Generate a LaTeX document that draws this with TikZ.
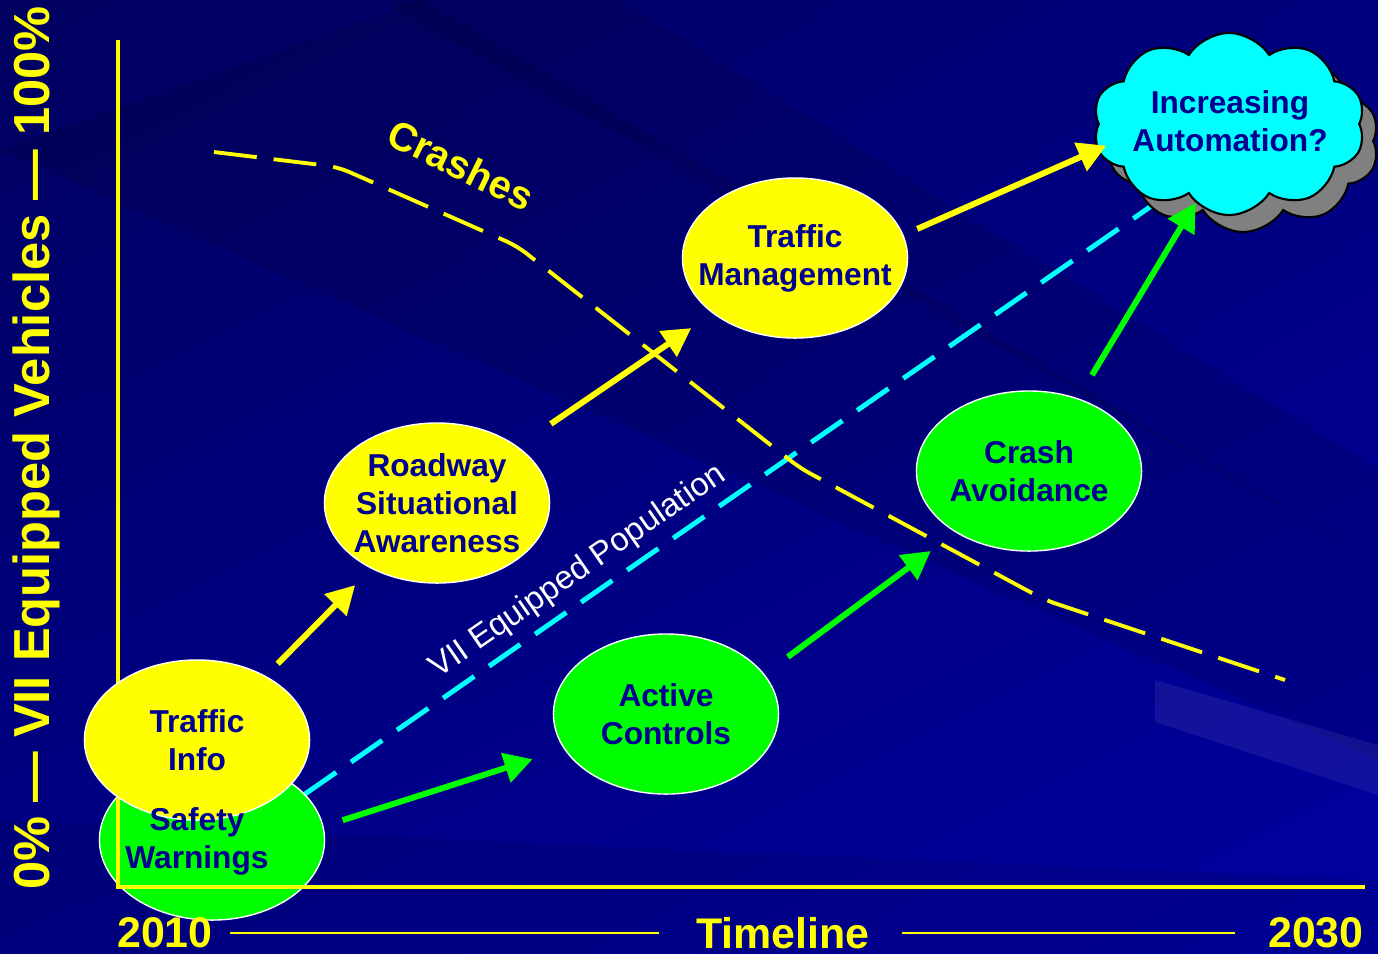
\documentclass[tikz,border=0pt]{standalone}
\usepackage{fontspec}
\setmainfont{Liberation Sans}
\usetikzlibrary{arrows.meta}
\usetikzlibrary{shapes.geometric}
\usetikzlibrary{shapes.symbols}
\usetikzlibrary{shadows}
\usetikzlibrary{shadings}
\definecolor{bgtl}{RGB}{0,0,95}
\definecolor{bgtr}{RGB}{0,0,125}
\definecolor{bgbl}{RGB}{0,0,135}
\definecolor{bgbr}{RGB}{0,0,160}
\definecolor{txtblue}{RGB}{0,0,145}
\definecolor{vyellow}{RGB}{255,255,0}
\definecolor{vgreen}{RGB}{0,255,0}
\definecolor{vcyan}{RGB}{0,255,255}

\begin{document}
\begin{tikzpicture}[x=0.01cm, y=-0.01cm,
    bubble/.style={ellipse, draw=white, thin, minimum width=2.25cm, minimum height=1.6cm,
        inner sep=-1cm, align=center, text=txtblue, font=\fontsize{9}{10.8}\selectfont\bfseries},
    ybubble/.style={bubble, fill=vyellow},
    gbubble/.style={bubble, fill=vgreen},
    bubbletext/.style={align=center, text=txtblue, font=\fontsize{9}{10.8}\selectfont\bfseries},
    yarrow/.style={vyellow, line width=1.7pt, -{Triangle[length=8pt,width=8.5pt]}},
    garrow/.style={yarrow, vgreen},
    axis/.style={vyellow, line width=1.4pt},
    biglabel/.style={vyellow, inner sep=0.1cm, font=\fontsize{12.2}{14}\selectfont\bfseries}]
    % background
    \useasboundingbox (0,0) rectangle (1378,953);
    \shade[upper left=bgtl, upper right=bgtr, lower left=bgbl, lower right=bgbr] (0,0) rectangle (1378,953);
    \fill[black, opacity=0.10] (0,150) -- (420,0) -- (1378,560) -- (1378,760) -- cycle;
    \fill[black, opacity=0.10] (380,0) -- (620,0) -- (1378,470) -- (1378,560) -- cycle;
    \fill[white, opacity=0.07] (1155,680) -- (1378,745) -- (1378,795) -- (1155,722) -- cycle;
    \fill[black, opacity=0.08] (0,820) -- (1378,880) -- (1378,953) -- (0,953) -- cycle;

    % trend lines
    \coordinate (pop0) at (305,794);
    \coordinate (pop1) at (1160,200);
    \draw[vcyan, line width=1.4pt, dash pattern=on 0.38cm off 0.18cm] (pop0) -- (pop1);
    \node[rotate=34.7, white, font=\fontsize{9.3}{11}\selectfont] (poplabel) at (578,572) {VII Equipped Population};
    \draw[vyellow, line width=1.1pt, dash pattern=on 0.43cm off 0.17cm, rounded corners=0.12cm]
        (214,152) -- (338,167) -- (517,246) -- (800,468) -- (1045,600) -- (1285,680);
    \node[rotate=-26, vyellow, font=\fontsize{11.3}{13}\selectfont\bfseries] (crashlabel) at (461,165) {Crashes};

    % bubbles
    \node[gbubble] (sw) at (212,840) {};
    \draw[axis] (118,40) -- (118,887) -- (1365,887);
    \node[ybubble] (ti) at (197,740) {Traffic\\Info};
    \node[bubbletext] (swtext) at (197,841) {Safety\\Warnings};
    \node[ybubble] (rsa) at (437,503) {Roadway\\Situational\\Awareness};
    \node[gbubble] (ac) at (666,714) {Active\\Controls};
    \node[ybubble] (tm) at (795,258) {Traffic\\Management};
    \node[gbubble] (ca) at (1029,471) {Crash\\Avoidance};
    \node[cloud, cloud puffs=10, cloud puff arc=115, cloud ignores aspect, minimum width=2.72cm,
        minimum height=1.82cm, inner sep=0, draw=black, semithick, fill=vcyan,
        copy shadow={shadow xshift=0.14cm, shadow yshift=-0.17cm, fill=gray, draw=black}] (auto) at (1229,124) {};
    \node[bubbletext] (autotext) at (1230,121) {Increasing\\Automation?};

    % arrows
    \draw[yarrow, shorten <=0.17cm, shorten >=0.23cm] (ti.43) -- (rsa.225);
    \draw[yarrow, shorten <=0.40cm, shorten >=0.26cm] (rsa.35) -- (tm.214);
    \draw[yarrow, shorten <=0.15cm, shorten >=-0.1cm] (tm.12) -- (auto.191);
    \draw[garrow, shorten <=0.20cm, shorten >=0.33cm] (sw.7.5) -- (ac.199);
    \draw[garrow, shorten <=0.29cm, shorten >=0.31cm] (ac.22) -- (ca.220);
    \draw[garrow, shorten <=0.27cm] (ca.56) -- (auto.247);

    % axis labels
    \node[rotate=90, vyellow, font=\fontsize{14.4}{16}\selectfont\bfseries] (vlabel) at (36,448) {0\% — VII Equipped Vehicles — 100\%};
    \node[biglabel] (y2010) at (165,933) {2010};
    \node[biglabel] (tline) at (783,933) {Timeline};
    \node[biglabel] (y2030) at (1316,933) {2030};
    \draw[vyellow, line width=0.8pt, shorten <=0.07cm, shorten >=0.27cm] (y2010) -- (tline);
    \draw[vyellow, line width=0.8pt, shorten <=0.22cm, shorten >=0.23cm] (tline) -- (y2030);
\end{tikzpicture}
\end{document}
